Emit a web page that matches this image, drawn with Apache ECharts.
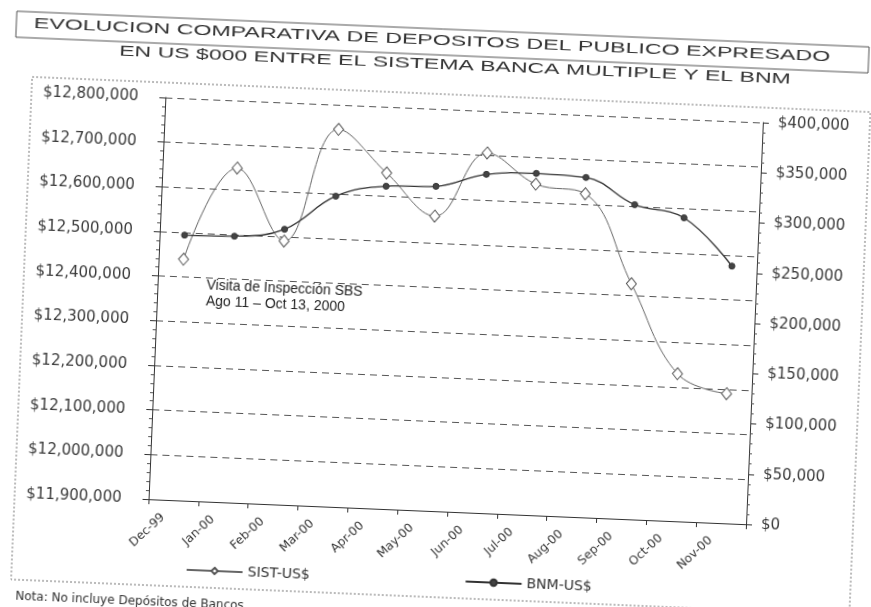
<!DOCTYPE html>
<html>
<head>
<meta charset="utf-8">
<script src="https://cdn.jsdelivr.net/npm/echarts@6/dist/echarts.min.js"></script>
<style>
html,body{margin:0;padding:0;width:871px;height:607px;overflow:hidden;background:#fff;}
#chart{position:absolute;left:-40px;top:-40px;width:951px;height:687px;transform:rotate(2.4deg);transform-origin:50% 50%;}
</style>
</head>
<body>
<div id="chart"></div>
<script>
// ---- data ----
const categories = ['Dec-99','Jan-00','Feb-00','Mar-00','Apr-00','May-00','Jun-00','Jul-00','Aug-00','Sep-00','Oct-00','Nov-00'];
const sistValues = [12440000, 12649000, 12490000, 12745000, 12652000, 12560000, 12706000, 12641000, 12624000, 12427000, 12230000, 12190000];
const bnmValues  = [264000, 265000, 274000, 309000, 321000, 323000, 337000, 340000, 338000, 313000, 302000, 256000];
const leftAxisMin = 11900000, leftAxisMax = 12800000, leftAxisStep = 100000;
const rightAxisMin = 0, rightAxisMax = 400000, rightAxisStep = 50000;
const seriesNames = ['SIST-US$', 'BNM-US$'];
const titleLines = ['EVOLUCION COMPARATIVA DE DEPOSITOS DEL PUBLICO EXPRESADO',
                    'EN US $000 ENTRE EL SISTEMA BANCA MULTIPLE Y EL BNM'];
const annotationLines = ['Visita de Inspección SBS', 'Ago 11 – Oct 13, 2000'];
const noteText = 'Nota: No incluye Depósitos de Bancos';

// ---- layout (page coords + offset of rotated container) ----
const OX = 40, OY = 40;
const cvs = document.createElement('canvas').getContext('2d');
function measure(text, font){ cvs.font = font; return cvs.measureText(text).width; }
const titleFont = '15px "Liberation Sans"';
const titleTargets = [{w:797, x:421, y:41}, {w:672, x:445, y:65}];
const money = v => '$' + Number(v).toLocaleString('en-US');

const chart = echarts.init(document.getElementById('chart'), null, {width:951, height:687, renderer:'canvas'});

const graphics = [];
// title box
graphics.push({type:'rect', shape:{x:5+OX, y:29+OY, width:853, height:26}, style:{fill:'none', stroke:'#555', lineWidth:1}, silent:true});
// outer frame
graphics.push({type:'rect', shape:{x:23+OX, y:94+OY, width:839, height:503}, style:{fill:'none', stroke:'#777', lineWidth:1, lineDash:[2,2]}, silent:true});
titleLines.forEach((t,i)=>{
  const tg = titleTargets[i];
  const s = tg.w / measure(t, titleFont);
  graphics.push({type:'text', x:tg.x+OX, y:tg.y+OY, scaleX:s, scaleY:1,
    style:{text:t, font:titleFont, fill:'#333', textAlign:'center', textVerticalAlign:'middle'}, silent:true});
});
annotationLines.forEach((t,i)=>{
  graphics.push({type:'text', x:206+OX, y:295+OY+i*16,
    style:{text:t, font:'14px "Liberation Sans"', fill:'#222', textAlign:'left', textVerticalAlign:'middle'}, silent:true});
});
graphics.push({type:'text', x:28+OX, y:614+OY,
  style:{text:noteText, font:'12px "DejaVu Sans"', fill:'#333', textAlign:'left', textVerticalAlign:'middle'}, silent:true});

const option = {
  animation:false,
  backgroundColor:'#fff',
  textStyle:{fontFamily:'"DejaVu Sans"'},
  grid:{left:157+OX, top:109+OY, width:598, height:402, containLabel:false},
  legend:{
    data:seriesNames, left:192+OX, top:568+OY, itemGap:155, itemWidth:56, itemHeight:8,
    textStyle:{fontSize:14, color:'#333', fontFamily:'"DejaVu Sans"'}
  },
  xAxis:{
    type:'category', data:categories, boundaryGap:true,
    axisLine:{lineStyle:{color:'#333', width:1}},
    axisTick:{show:true, length:5, lineStyle:{color:'#333'}},
    axisLabel:{rotate:45, fontSize:12, color:'#333', margin:6, padding:[0,14,0,0], fontFamily:'"DejaVu Sans"'},
    splitLine:{show:false}
  },
  yAxis:[
    {
      type:'value', position:'left', min:leftAxisMin, max:leftAxisMax, interval:leftAxisStep,
      axisLine:{show:true, lineStyle:{color:'#333'}},
      axisTick:{show:true, length:6, lineStyle:{color:'#333'}},
      minorTick:{show:true, splitNumber:5, length:3, lineStyle:{color:'#555'}},
      axisLabel:{formatter:money, fontSize:15, color:'#3a3a3a', margin:27, fontFamily:'"DejaVu Sans"'},
      splitLine:{show:true, lineStyle:{type:[7,5], color:'#555', width:1}}
    },
    {
      type:'value', position:'right', min:rightAxisMin, max:rightAxisMax, interval:rightAxisStep,
      axisLine:{show:true, lineStyle:{color:'#333'}},
      axisTick:{show:true, length:6, lineStyle:{color:'#333'}},
      minorTick:{show:true, splitNumber:5, length:3, lineStyle:{color:'#555'}},
      axisLabel:{formatter:money, fontSize:15, color:'#3a3a3a', margin:15, fontFamily:'"DejaVu Sans"'},
      splitLine:{show:false}
    }
  ],
  series:[
    {
      name:seriesNames[0], type:'line', yAxisIndex:0, data:sistValues, smooth:0.4,
      symbol:'diamond', symbolSize:[10,12],
      itemStyle:{color:'#fff', borderColor:'#555', borderWidth:1},
      lineStyle:{color:'#666', width:1}
    },
    {
      name:seriesNames[1], type:'line', yAxisIndex:1, data:bnmValues, smooth:0.4,
      symbol:'circle', symbolSize:6,
      itemStyle:{color:'#444', borderColor:'#333', borderWidth:1},
      lineStyle:{color:'#333', width:1.3}
    }
  ],
  graphic:graphics
};
chart.setOption(option);
</script>
</body>
</html>
